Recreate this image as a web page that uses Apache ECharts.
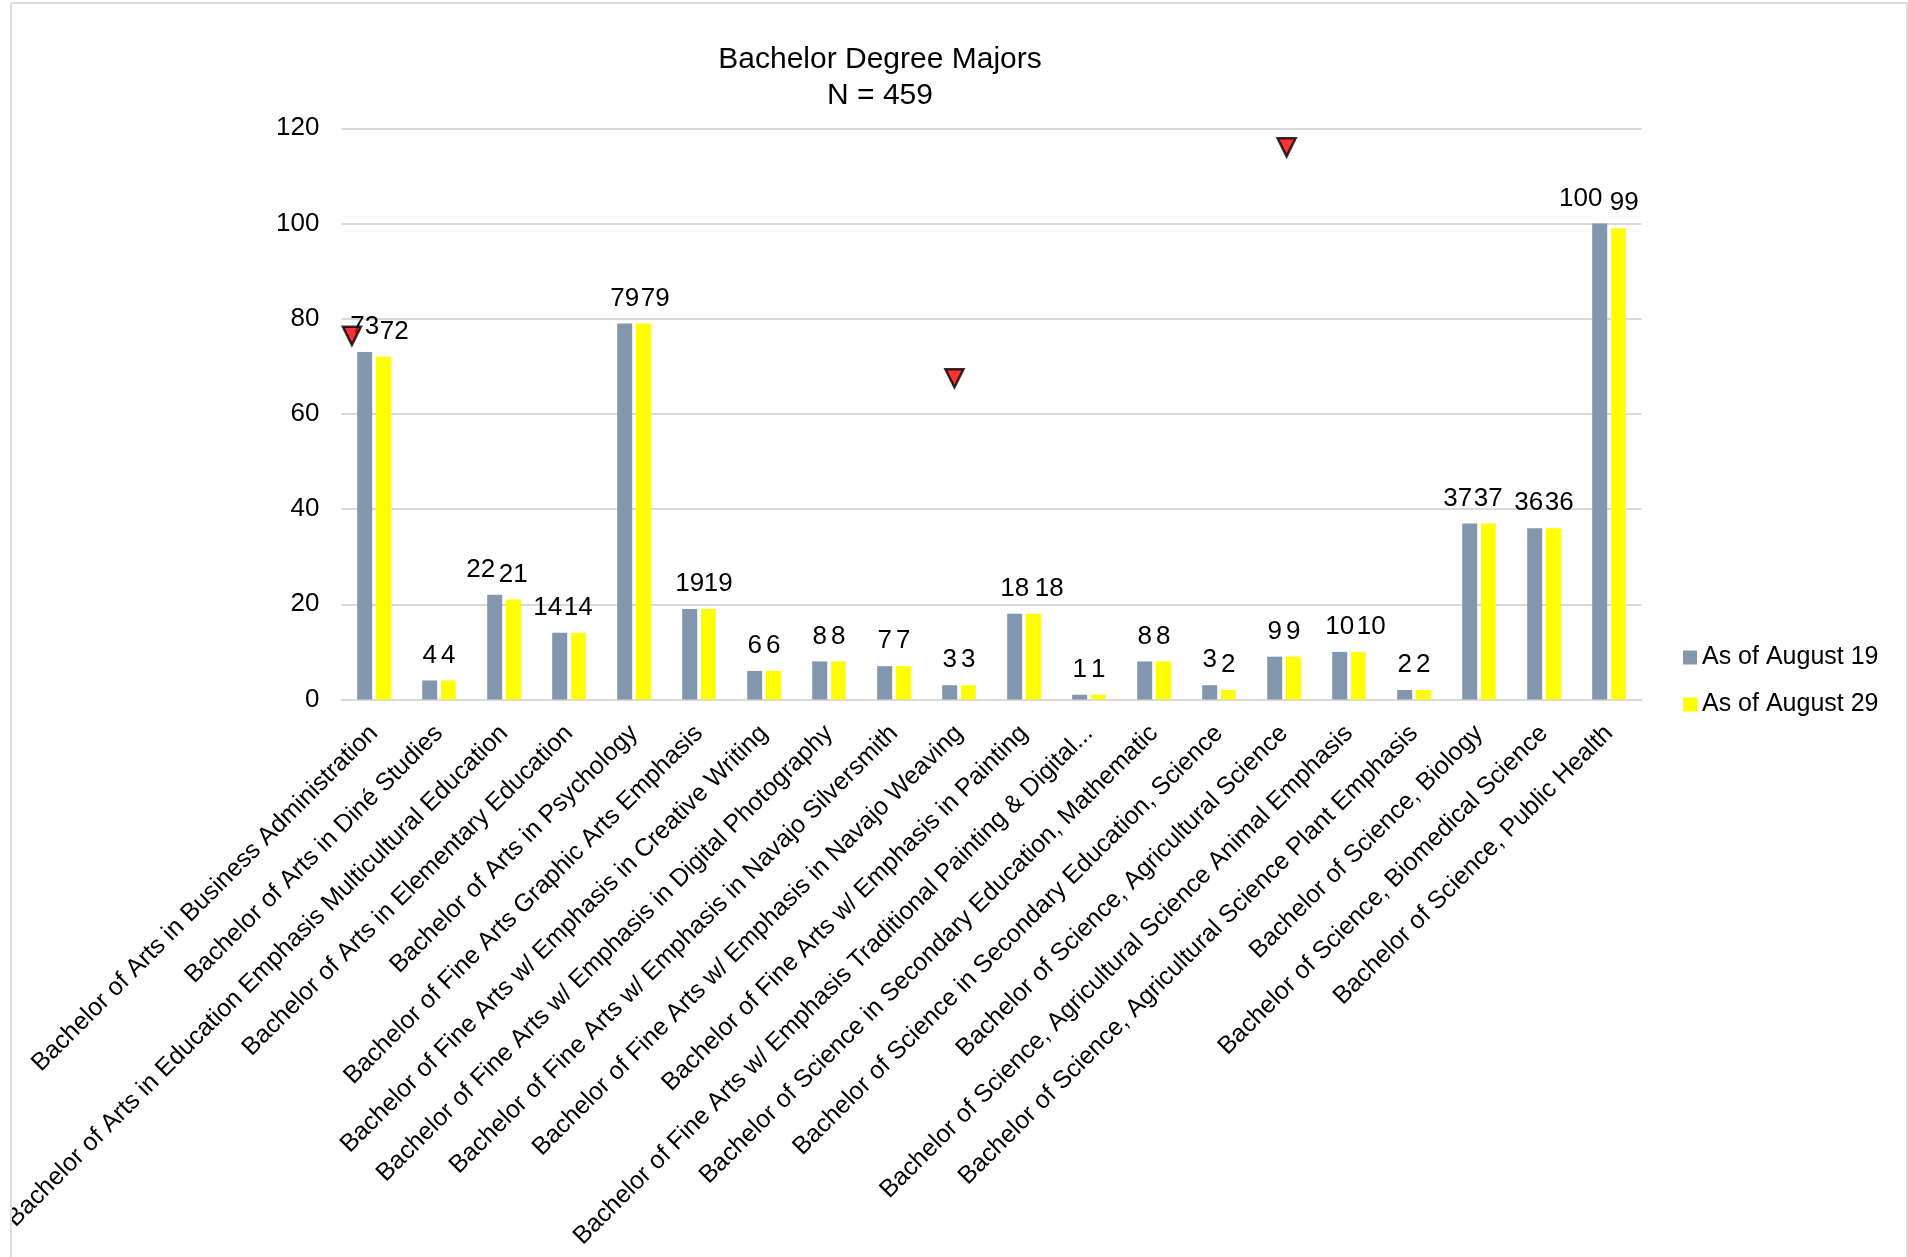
<!DOCTYPE html>
<html>
<head>
<meta charset="utf-8">
<title>Bachelor Degree Majors</title>
<script src="https://cdn.jsdelivr.net/npm/echarts@6/dist/echarts.min.js"></script>
<style>
  html, body { margin: 0; padding: 0; background: #fff; overflow: hidden; }
  #frame { position: absolute; left: 10px; top: 2px; width: 1894px; height: 1255px;
           border: solid #dedede; border-width: 2px 2px 0 2px; }
  #chart { position: absolute; left: 12px; top: 4px; width: 1894px; height: 1253px; }
</style>
</head>
<body>
<div id="frame"></div>
<div id="chart"></div>
<script>
const categories = [
  "Bachelor of Arts in Business Administration",
  "Bachelor of Arts in Diné Studies",
  "Bachelor of Arts in Education Emphasis Multicultural Education",
  "Bachelor of Arts in Elementary Education",
  "Bachelor of Arts in Psychology",
  "Bachelor of Fine Arts Graphic Arts Emphasis",
  "Bachelor of Fine Arts w/ Emphasis in Creative Writing",
  "Bachelor of Fine Arts w/ Emphasis in Digital Photography",
  "Bachelor of Fine Arts w/ Emphasis in Navajo Silversmith",
  "Bachelor of Fine Arts w/ Emphasis in Navajo Weaving",
  "Bachelor of Fine Arts w/ Emphasis in Painting",
  "Bachelor of Fine Arts w/ Emphasis Traditional Painting & Digital...",
  "Bachelor of Science in Secondary Education, Mathematic",
  "Bachelor of Science in Secondary Education, Science",
  "Bachelor of Science, Agricultural Science",
  "Bachelor of Science, Agricultural Science Animal Emphasis",
  "Bachelor of Science, Agricultural Science Plant Emphasis",
  "Bachelor of Science, Biology",
  "Bachelor of Science, Biomedical Science",
  "Bachelor of Science, Public Health"
];
const august19 = [73, 4, 22, 14, 79, 19, 6, 8, 7, 3, 18, 1, 8, 3, 9, 10, 2, 37, 36, 100];
const august29 = [72, 4, 21, 14, 79, 19, 6, 8, 7, 3, 18, 1, 8, 2, 9, 10, 2, 37, 36, 99];

// Sideways nudges that keep neighbouring value labels from colliding.
const nudge19 = [0, 0, -14, -12, 0, 0, 0, 0, 0, 0, 0, 0, 0, 0, 0, 0, 0, -12, -6, -19];
const nudge29 = [11, 0, 0, 0, 12, 10, 0, 0, 0, 0, 16, 0, 0, 0, 0, 13, 0, 0, 6, 6];

// Flag markers, placed in axis units (category position, count).
const flagX = [0.16, 9.43, 14.54];
const flagY = [76.4, 67.5, 116.0];

const FONT = '"Liberation Sans", Arial, sans-serif';
const GRID_COLOR = '#d9d9d9';

function barSeries(name, values, color, nudges) {
  return {
    name: name,
    type: 'bar',
    data: values,
    barWidth: 15,
    barGap: '24%',
    itemStyle: { color: color },
    label: {
      show: true,
      position: 'top',
      distance: 12,
      color: '#000',
      fontFamily: FONT,
      fontSize: 26
    },
    labelLayout: function (p) { return { dx: nudges[p.dataIndex] }; }
  };
}

const chart = echarts.init(document.getElementById('chart'), null, { renderer: 'canvas' });
chart.setOption({
  animation: false,
  backgroundColor: '#fff',
  title: {
    text: 'Bachelor Degree Majors\nN = 459',
    left: 868,
    top: 38,
    padding: 0,
    textAlign: 'center',
    textStyle: { fontFamily: FONT, fontWeight: 'normal', fontSize: 30, lineHeight: 36, color: '#000' }
  },
  legend: {
    data: ['As of August 19', 'As of August 29'],
    orient: 'vertical',
    left: 1666,
    top: 636,
    itemWidth: 14,
    itemHeight: 14,
    itemGap: 22,
    icon: 'rect',
    textStyle: { fontFamily: FONT, fontSize: 25, color: '#000' }
  },
  grid: { left: 329.5, top: 124.3, width: 1300, height: 571.2, outerBoundsMode: 'none', containLabel: false },
  xAxis: [
    {
      type: 'category',
      data: categories,
      axisTick: { show: false },
      axisLine: { lineStyle: { color: GRID_COLOR, width: 2 } },
      axisLabel: {
        interval: 0,
        rotate: 45,
        margin: 30,
        hideOverlap: false,
        color: '#000',
        fontFamily: FONT,
        fontSize: 25
      }
    },
    { type: 'value', min: 0, max: 20, show: false }
  ],
  yAxis: {
    type: 'value',
    min: 0,
    max: 120,
    interval: 20,
    axisLine: { show: false },
    axisTick: { show: false },
    splitLine: { lineStyle: { color: GRID_COLOR, width: 2 } },
    axisLabel: { margin: 22, color: '#000', fontFamily: FONT, fontSize: 26, padding: [4, 0, 0, 0] }
  },
  series: [
    barSeries('As of August 19', august19, '#8297ae', nudge19),
    barSeries('As of August 29', august29, '#ffff00', nudge29),
    {
      name: 'Flags',
      type: 'scatter',
      xAxisIndex: 1,
      z: 20,
      symbol: 'triangle',
      symbolRotate: 180,
      symbolSize: [18, 18],
      itemStyle: { color: '#ff0000', borderColor: '#000', borderWidth: 2.5 },
      data: flagX.map(function (x, i) { return [x, flagY[i]]; })
    }
  ]
});
</script>
</body>
</html>
